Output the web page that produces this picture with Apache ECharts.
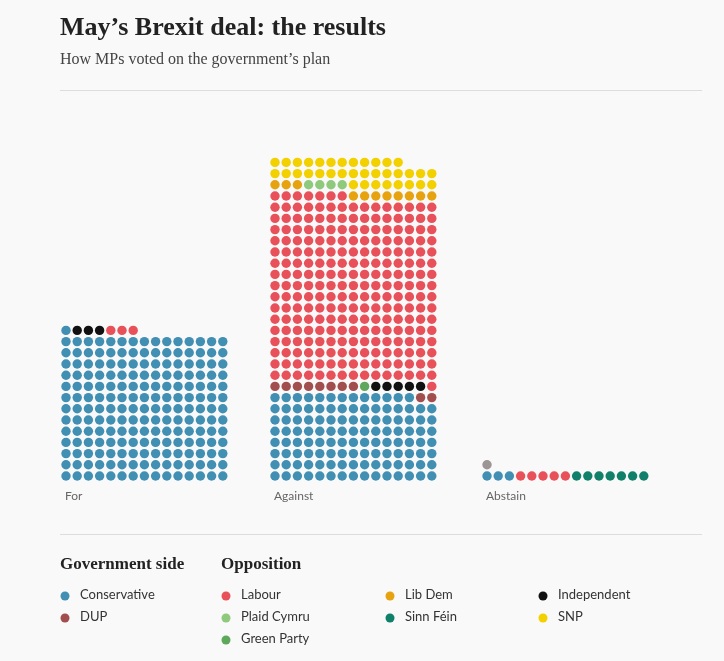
<!DOCTYPE html>
<html><head><meta charset="utf-8">
<script src="https://cdn.jsdelivr.net/npm/echarts@6/dist/echarts.min.js"></script>
<style>html,body{margin:0;background:#f9f9f9}#c{width:724px;height:661px}</style>
</head><body><div id="c"></div>
<script>
// parties and colours
const parties = ['Conservative', 'DUP', 'Labour', 'Plaid Cymru', 'Green Party', 'Lib Dem', 'Sinn Féin', 'Independent', 'SNP', 'Speaker'];
const colours = ['#418fb2', '#a34e4e', '#e8515a', '#8ec97c', '#5da85b', '#e6a30f', '#10806a', '#111111', '#f3d000', '#9e9494'];
// each block: runs of [party, count], filled left→right, bottom→top, 15 per row
const blocks = ['For', 'Against', 'Abstain'];
const forRuns = [['Conservative', 196], ['Independent', 3], ['Labour', 3]];
const againstRuns = [['Conservative', 118], ['DUP', 10], ['Green Party', 1], ['Independent', 5], ['Labour', 248],
  ['Lib Dem', 11], ['Plaid Cymru', 4], ['SNP', 35]];
const abstainRuns = [['Conservative', 3], ['Labour', 5], ['Sinn Féin', 7], ['Speaker', 1]];
const blockRuns = [forRuns, againstRuns, abstainRuns];
const blockOffset = [6, 215, 427];
const COLS = 15, STEP = 11.2;

const pts = {};
parties.forEach(p => pts[p] = []);
blockRuns.forEach((runs, b) => {
  let i = 0;
  runs.forEach(([p, n]) => {
    for (let k = 0; k < n; k++, i++) {
      pts[p].push([blockOffset[b] + (i % COLS) * STEP, 25 + Math.floor(i / COLS) * STEP]);
    }
  });
});

const chart = echarts.init(document.getElementById('c'));
const serif = '"Liberation Serif", "DejaVu Serif", serif';
const sans = 'Lato, "Open Sans", sans-serif';
const legendItems = [
  ['Conservative', 65, 596], ['DUP', 65, 618],
  ['Labour', 226, 596], ['Plaid Cymru', 226, 618], ['Green Party', 226, 640],
  ['Lib Dem', 390, 596], ['Sinn Féin', 390, 618],
  ['Independent', 543, 596], ['SNP', 543, 618]
];
const graphic = [
  { type: 'text', left: 60, top: 15, style: { text: 'May’s Brexit deal: the results', font: 'bold 26px ' + serif, fill: '#222' } },
  { type: 'text', left: 60, top: 52, style: { text: 'How MPs voted on the government’s plan', font: '16px ' + serif, fill: '#444' } },
  { type: 'rect', shape: { x: 60, y: 90, width: 642, height: 1 }, style: { fill: '#ddd' } },
  { type: 'rect', shape: { x: 60, y: 534, width: 642, height: 1 }, style: { fill: '#ddd' } },
  { type: 'text', left: 60, top: 556, style: { text: 'Government side', font: 'bold 17px ' + serif, fill: '#222' } },
  { type: 'text', left: 221, top: 556, style: { text: 'Opposition', font: 'bold 17px ' + serif, fill: '#222' } }
];
blocks.forEach((t, b) => graphic.push({ type: 'text', left: 59 + blockOffset[b], top: 490,
  style: { text: t, font: '12px ' + sans, fill: '#666' } }));
legendItems.forEach(([p, x, y]) => {
  graphic.push({ type: 'circle', shape: { cx: x, cy: y, r: 4.5 }, style: { fill: colours[parties.indexOf(p)] } });
  graphic.push({ type: 'text', left: x + 15, top: y - 8, style: { text: p, font: '13px ' + sans, fill: '#333' } });
});

chart.setOption({
  backgroundColor: '#f9f9f9',
  animation: false,
  grid: { left: 60, top: 101, width: 600, height: 400 },
  xAxis: { type: 'value', min: 0, max: 600, show: false },
  yAxis: { type: 'value', min: 0, max: 400, show: false },
  graphic,
  series: parties.map((p, i) => ({
    type: 'scatter', name: p, data: pts[p], symbolSize: 9.4,
    itemStyle: { color: colours[i], opacity: 1 }, silent: true
  }))
});
</script></body></html>
